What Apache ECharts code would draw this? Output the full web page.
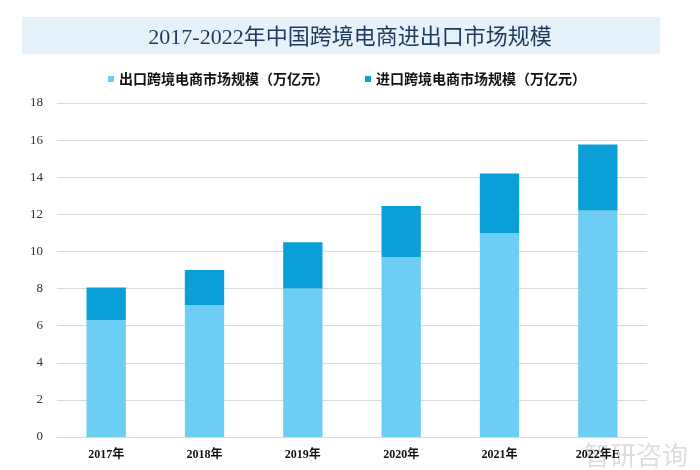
<!DOCTYPE html>
<html>
<head>
<meta charset="utf-8">
<script src="https://cdn.jsdelivr.net/npm/echarts@6/dist/echarts.min.js"></script>
<style>html,body{margin:0;padding:0;background:#fff;}#c{width:700px;height:470px;}</style>
</head>
<body>
<div id="c"></div>
<script>
var categories = ['2017年', '2018年', '2019年', '2020年', '2021年', '2022年E'];
var exportValues = [6.3, 7.1, 8.0, 9.7, 11.0, 12.2];
var importValues = [1.76, 1.9, 2.5, 2.75, 3.2, 3.57];
var seriesNames = ['出口跨境电商市场规模（万亿元）', '进口跨境电商市场规模（万亿元）'];
var titleText = '2017-2022年中国跨境电商进出口市场规模';

var chart = echarts.init(document.getElementById('c'));
var serif = '"Liberation Serif", "DejaVu Serif", "Noto Sans CJK SC", serif';
chart.setOption({
  backgroundColor: '#ffffff',
  graphic: [
    { type: 'rect', left: 22, top: 17, shape: { width: 638, height: 37 }, style: { fill: '#e6f2f9' }, z: -1 },
    { type: 'text', right: 12, bottom: 2, style: { text: '智研咨询', fill: 'rgba(150,160,170,0.35)', font: '26px "Noto Sans CJK SC"' }, z: 0 }
  ],
  title: {
    text: titleText,
    left: 'center',
    top: 22,
    textStyle: { color: '#1e3a5c', fontSize: 22, fontWeight: 'normal', fontFamily: serif }
  },
  legend: {
    top: 67,
    left: 103,
    itemWidth: 6,
    itemHeight: 6,
    itemGap: 36,
    icon: 'rect',
    textStyle: { color: '#111', fontSize: 14, fontWeight: 'bold', fontFamily: '"Noto Sans CJK SC"' },
    data: seriesNames
  },
  grid: { left: 57, right: 53, top: 103, bottom: 33 },
  xAxis: {
    type: 'category',
    data: categories,
    axisLine: { lineStyle: { color: '#d9d9d9' } },
    axisTick: { show: false },
    axisLabel: { color: '#111', fontSize: 12, fontWeight: 'bold', margin: 12, fontFamily: serif }
  },
  yAxis: {
    type: 'value',
    min: 0, max: 18, interval: 2,
    axisLine: { show: false },
    axisTick: { show: false },
    splitLine: { lineStyle: { color: '#d9d9d9' } },
    axisLabel: { color: '#333', fontSize: 13, margin: 14, fontFamily: serif }
  },
  series: [
    { name: seriesNames[0], type: 'bar', stack: 's', data: exportValues, barWidth: '40%', itemStyle: { color: '#6dcdf3' } },
    { name: seriesNames[1], type: 'bar', stack: 's', data: importValues, barWidth: '40%', itemStyle: { color: '#0b9fd8' } }
  ]
});
</script>
</body>
</html>
